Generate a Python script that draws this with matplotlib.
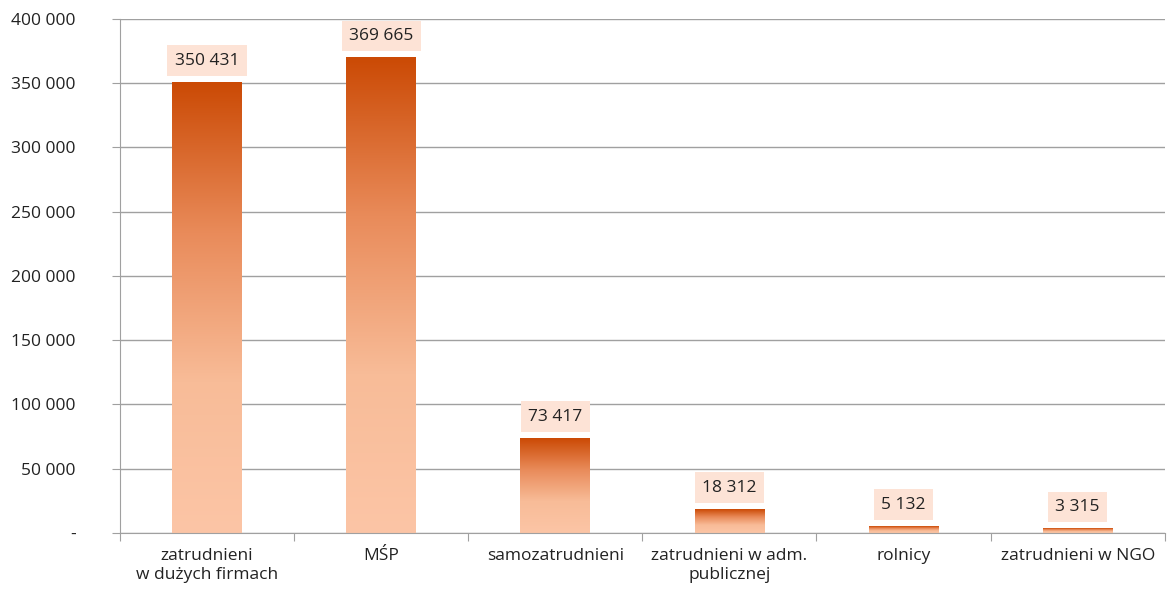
import matplotlib
matplotlib.use("Agg")
import matplotlib.pyplot as plt
import numpy as np
from matplotlib.colors import LinearSegmentedColormap

categories = ["zatrudnieni\nw dużych firmach", "MŚP", "samozatrudnieni",
              "zatrudnieni w adm.\npublicznej", "rolnicy", "zatrudnieni w NGO"]
values = [350431, 369665, 73417, 18312, 5132, 3315]
yticks = [0, 50000, 100000, 150000, 200000, 250000, 300000, 350000, 400000]

def fmt(v):
    return "-" if v == 0 else f"{v:,}".replace(",", " ")

plt.rcParams['font.family'] = ['Open Sans', 'DejaVu Sans']

fig = plt.figure(figsize=(11.68, 5.9), dpi=100)
ax = fig.add_axes([0.1027, 0.0966, 0.8945, 0.8714])

cmap = LinearSegmentedColormap.from_list("g", ["#FCC5A6", "#F8BC98", "#E98B5A", "#CB4A05"])
grad = np.linspace(0, 1, 256).reshape(-1, 1)
width = 0.4
for i, v in enumerate(values):
    ax.imshow(grad, cmap=cmap, origin="lower", aspect="auto",
              extent=[i - width / 2, i + width / 2, 0, v], zorder=2)
    ax.annotate(fmt(v), (i, v), xytext=(0, 10), textcoords="offset points",
                ha="center", va="bottom", fontsize=12.5, color="#222222",
                bbox=dict(boxstyle="square,pad=0.42", fc="#FDE3D6", ec="none"),
                zorder=3)

ax.set_xlim(-0.5, len(values) - 0.5)
ax.set_ylim(0, 400000)
ax.set_yticks(yticks)
ax.set_yticklabels([fmt(t) for t in yticks], fontsize=12.5, color="#222222")
ax.yaxis.grid(True, color="#A0A0A0", linewidth=1)
ax.set_axisbelow(True)
ax.tick_params(axis="y", length=6, color="#A0A0A0", pad=26)

ax.set_xticks(np.arange(-0.5, len(values) + 0.5, 1))
ax.set_xticklabels([])
ax.set_xticks(np.arange(len(values)), minor=True)
ax.set_xticklabels(categories, minor=True, fontsize=12.5, color="#222222", linespacing=1.25)
ax.tick_params(axis="x", which="major", length=6, color="#A0A0A0")
ax.tick_params(axis="x", which="minor", length=0, pad=11)

for s in ["top", "right"]:
    ax.spines[s].set_visible(False)
for s in ["left", "bottom"]:
    ax.spines[s].set_color("#A0A0A0")

fig.savefig("out.png", dpi=100, facecolor="white")
